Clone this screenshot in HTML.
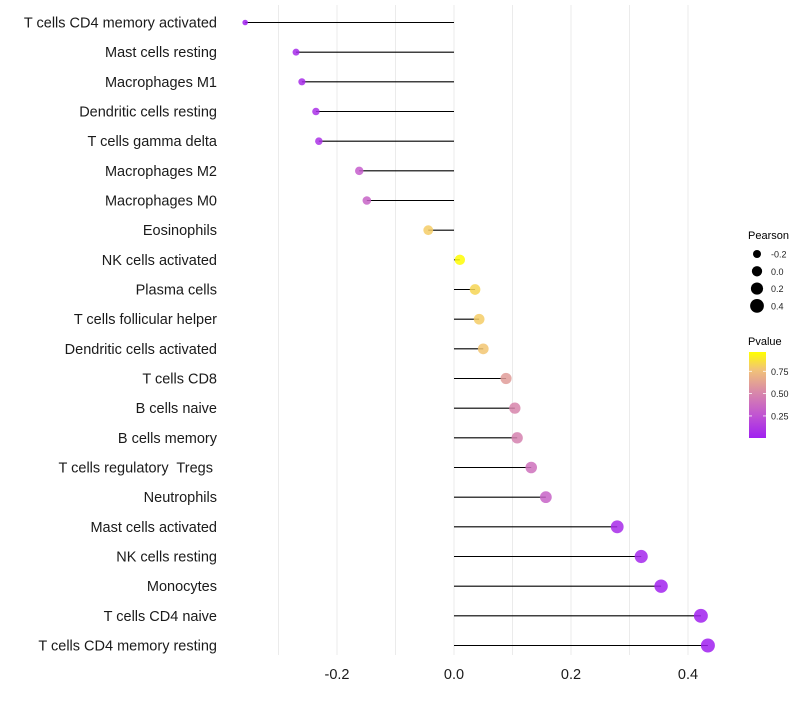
<!DOCTYPE html>
<html><head><meta charset="utf-8"><style>
body{margin:0;background:#fff;font-family:"Liberation Sans",sans-serif}
svg text{font-family:"Liberation Sans",sans-serif;white-space:pre}
</style></head><body>
<svg id="chart" width="800" height="700" xmlns="http://www.w3.org/2000/svg" xml:space="preserve">
<defs><linearGradient id="pg" x1="0" y1="1" x2="0" y2="0">
<stop offset="0" stop-color="#a020f0"/><stop offset="0.28" stop-color="#c257d0"/><stop offset="0.54" stop-color="#d98aa8"/><stop offset="0.8" stop-color="#f2c476"/><stop offset="1" stop-color="#ffff00"/></linearGradient></defs>
<g id="grid"></g><g id="marks"></g><g id="ylabels"></g><g id="xlabels"></g>
<g id="legend">
<text x="748" y="239" font-size="11" fill="#000">Pearson</text>
<g id="sizeLeg"></g>
<text x="748" y="345" font-size="11" fill="#000">Pvalue</text>
<rect x="749" y="352" width="17" height="86" fill="url(#pg)"/>
<g id="colLeg"></g>
</g>
</svg>
<script>
const categories=["T cells CD4 memory activated","Mast cells resting","Macrophages M1","Dendritic cells resting","T cells gamma delta","Macrophages M2","Macrophages M0","Eosinophils","NK cells activated","Plasma cells","T cells follicular helper","Dendritic cells activated","T cells CD8","B cells naive","B cells memory","T cells regulatory  Tregs ","Neutrophils","Mast cells activated","NK cells resting","Monocytes","T cells CD4 naive","T cells CD4 memory resting"];
const pearson=[-0.357,-0.270,-0.260,-0.236,-0.231,-0.162,-0.149,-0.044,0.010,0.036,0.043,0.050,0.089,0.104,0.108,0.132,0.157,0.279,0.320,0.354,0.422,0.434];
const pvalues=[0.004,0.05,0.06,0.08,0.09,0.30,0.33,0.80,0.96,0.83,0.80,0.78,0.60,0.50,0.48,0.40,0.33,0.06,0.04,0.02,0.008,0.004];
const xTicks=[-0.2,0,0.2,0.4];
const xTickLabels=["-0.2","0.0","0.2","0.4"];
const sizeLegVals=[-0.2,0,0.2,0.4];
const sizeLegLabels=["-0.2","0.0","0.2","0.4"];
const colLegVals=[0.75,0.5,0.25];
const colLegLabels=["0.75","0.50","0.25"];
const NS="http://www.w3.org/2000/svg";
const X=v=>454+v*585;
const Y=i=>22.5+i*(623/21);
const R=v=>Math.sqrt(Math.max(1,26.4+52.5*v));
const pMin=0.003,pMax=0.966;
const stops=[[0,[160,32,240]],[0.28,[194,87,208]],[0.54,[217,138,168]],[0.8,[242,196,118]],[1,[255,255,0]]];
function col(p){let t=(p-pMin)/(pMax-pMin);t=Math.max(0,Math.min(1,t));
for(let i=1;i<stops.length;i++){if(t<=stops[i][0]){const a=stops[i-1],b=stops[i];const f=(t-a[0])/(b[0]-a[0]);
return "rgb("+a[1].map((c,k)=>Math.round(c+(b[1][k]-c)*f)).join(",")+")";}}return "rgb(255,255,0)";}
function mk(tag,attrs,parent){const e=document.createElementNS(NS,tag);for(const k in attrs)e.setAttribute(k,attrs[k]);parent.appendChild(e);return e;}
const grid=document.getElementById('grid');
for(let g=-0.3;g<=0.45;g+=0.1){const gx=X(Math.round(g*10)/10);
const l=mk('line',{x1:gx,x2:gx,y1:5,y2:655,stroke:'#ebebeb','stroke-width':1},grid);

}
const marks=document.getElementById('marks'),yl=document.getElementById('ylabels'),xl=document.getElementById('xlabels');
categories.forEach((c,i)=>{const y=Y(i),v=pearson[i];
const s=mk('line',{x1:X(0),x2:X(v),y1:y,y2:y,stroke:'#000','stroke-width':1.1},marks);


const d=mk('circle',{cx:X(v),cy:y,r:R(v),fill:col(pvalues[i]),'fill-opacity':0.85},marks);


const t=mk('text',{x:217,y:y+5,'text-anchor':'end','font-size':14.5,fill:'#1a1a1a'},yl);t.textContent=c;

});
xTicks.forEach((v,i)=>{const t=mk('text',{x:X(v),y:679,'text-anchor':'middle','font-size':14.5,fill:'#1a1a1a'},xl);t.textContent=xTickLabels[i];

});
const sl=document.getElementById('sizeLeg');
sizeLegVals.forEach((v,i)=>{const y=254+i*17.3;
const c=mk('circle',{cx:757,cy:y,r:R(v),fill:'#000'},sl);


const t=mk('text',{x:771,y:y+3.5,'font-size':9,fill:'#222'},sl);t.textContent=sizeLegLabels[i];

});
const cl=document.getElementById('colLeg');
colLegVals.forEach((v,i)=>{const y=438-(v-pMin)/(pMax-pMin)*86;
mk('line',{x1:749,x2:752,y1:y,y2:y,stroke:'#fff','stroke-width':0.8},cl);
mk('line',{x1:763,x2:766,y1:y,y2:y,stroke:'#fff','stroke-width':0.8},cl);
const t=mk('text',{x:771,y:y+3.5,'font-size':9,fill:'#222'},cl);t.textContent=colLegLabels[i];

});
</script>
</body></html>
